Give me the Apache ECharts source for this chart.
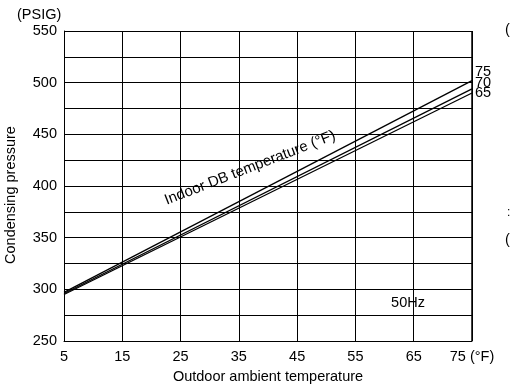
<!DOCTYPE html>
<html><head><meta charset="utf-8">
<script src="https://cdn.jsdelivr.net/npm/echarts@6/dist/echarts.min.js"></script>
<style>html,body{margin:0;padding:0;background:#fff}#c{width:510px;height:386px}</style>
</head><body><div id="c"></div>
<script>
var xTicks = [5, 15, 25, 35, 45, 55, 65, 75];
var indoorTemps = ['75', '70', '65'];
var line75 = [[5, 297], [75, 502]];
var line70 = [[5, 296], [75, 494]];
var line65 = [[5, 295], [75, 490]];
var seriesData = [line75, line70, line65];
var labelOffsets = [-9, -6, 0];
var F = 'Liberation Sans, Arial, sans-serif';
var FS = 14.5;

var chart = echarts.init(document.getElementById('c'));
var series = seriesData.map(function (d, i) {
  return {
    type: 'line', data: d, symbol: 'none', silent: true,
    lineStyle: { color: '#000', width: 1.3 },
    endLabel: { show: true, formatter: indoorTemps[i], color: '#000', fontFamily: F, fontSize: FS,
      offset: [0, labelOffsets[i]], distance: 3 }
  };
});
chart.setOption({
  animation: false,
  grid: { left: 64, right: 38, top: 31, bottom: 45 },
  xAxis: {
    type: 'value', min: 5, max: 75, interval: 10,
    axisLine: { show: true, lineStyle: { color: '#000', width: 1 } },
    axisTick: { show: false },
    splitLine: { show: true, lineStyle: { color: '#000', width: 1 } },
    axisLabel: { color: '#000', fontFamily: F, fontSize: FS, margin: 8,
      formatter: function (v) { return v === 75 ? '75 (°F)' : String(v); },
      customValues: xTicks }
  },
  yAxis: {
    type: 'value', min: 250, max: 550, interval: 25,
    axisLine: { show: true, lineStyle: { color: '#000', width: 1 } },
    axisTick: { show: false },
    splitLine: { show: true, lineStyle: { color: '#000', width: 1 } },
    axisLabel: { color: '#000', fontFamily: F, fontSize: FS, margin: 7,
      formatter: function (v) { return v % 50 === 0 ? String(v) : ''; } }
  },
  series: series,
  graphic: [
    { type: 'rect', shape: { x: 472, y: 31, width: 0, height: 310 }, style: { stroke: '#000', lineWidth: 1, fill: null } },
    { type: 'text', x: 17, y: 15, style: { text: '(PSIG)', font: FS + 'px ' + F, fill: '#000', verticalAlign: 'middle' } },
    { type: 'text', x: 268, y: 377, style: { text: 'Outdoor ambient temperature', font: FS + 'px ' + F, fill: '#000', align: 'center', verticalAlign: 'middle' } },
    { type: 'text', x: 3, y: 195, rotation: Math.PI / 2, style: { text: 'Condensing pressure', font: FS + 'px ' + F, fill: '#000', align: 'center', verticalAlign: 'top' } },
    { type: 'text', x: 250, y: 168, rotation: 0.37, style: { text: 'Indoor DB temperature (°F)', font: '15px ' + F, fill: '#000', align: 'center', verticalAlign: 'middle', backgroundColor: '#fff' } },
    { type: 'text', x: 408, y: 303, style: { text: '50Hz', font: FS + 'px ' + F, fill: '#000', align: 'center', verticalAlign: 'middle', backgroundColor: '#fff' } },
    { type: 'text', x: 505, y: 30, style: { text: '(', font: FS + 'px ' + F, fill: '#000', verticalAlign: 'middle' } },
    { type: 'text', x: 507, y: 213, style: { text: ':', font: '12px ' + F, fill: '#000', verticalAlign: 'middle' } },
    { type: 'text', x: 505, y: 240, style: { text: '(', font: FS + 'px ' + F, fill: '#000', verticalAlign: 'middle' } }
  ]
});
</script></body></html>
